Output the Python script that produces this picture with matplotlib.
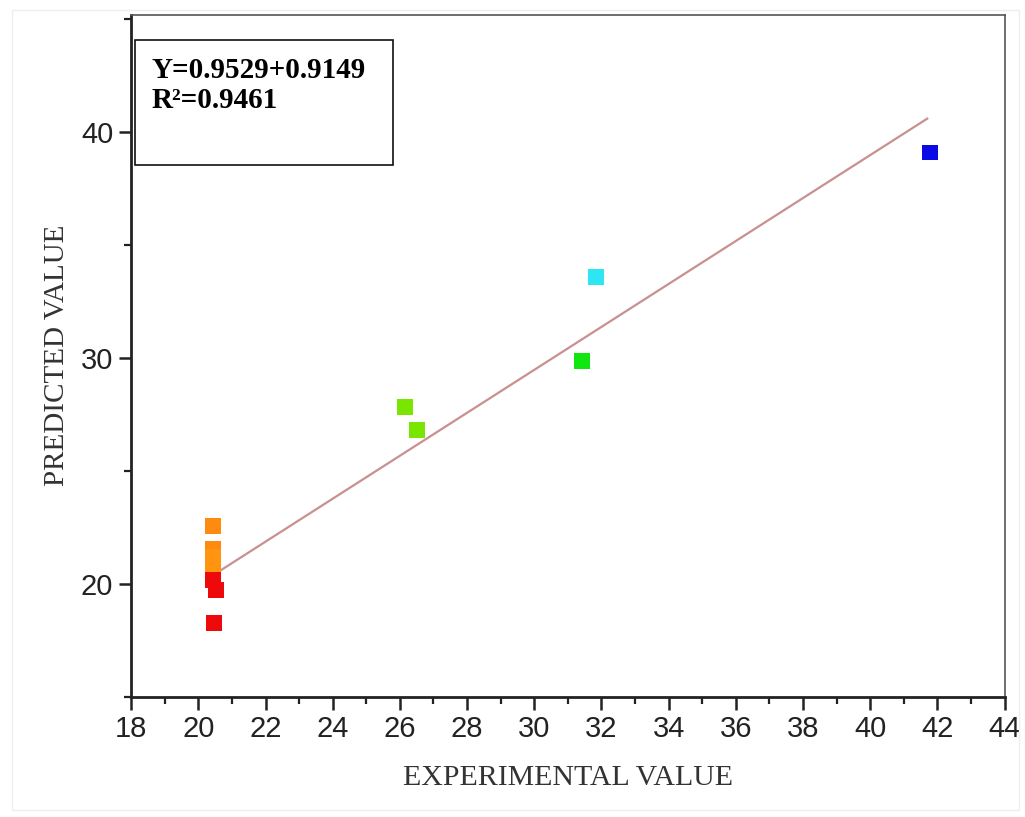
import matplotlib
matplotlib.use("Agg")
import matplotlib.pyplot as plt
from matplotlib.patches import Rectangle
from matplotlib.ticker import MultipleLocator

# ---- data ----
exp_x = [41.78, 31.84, 31.42, 26.15, 26.51, 20.44, 20.44, 20.44, 20.44, 20.44, 20.52, 20.47]
pred_y = [39.10, 33.58, 29.87, 27.83, 26.81, 22.57, 21.55, 21.20, 20.88, 20.18, 19.73, 18.27]
point_colors = ["#0a0ae6", "#2ee6f2", "#10e610", "#78e600", "#78e600",
                "#ff8a10", "#ff8a10", "#ff9410", "#ff9410", "#ee0a0a", "#ee0a0a", "#ee0a0a"]
fit_x = [20.45, 41.70]
fit_y = [20.40, 40.60]
eq_text = "Y=0.9529+0.9149"
r2_text = "R\u00b2=0.9461"
x_label = "EXPERIMENTAL VALUE"
y_label = "PREDICTED VALUE"

fig = plt.figure(figsize=(10.25, 8.17), dpi=100)
ax = fig.add_axes([0.128, 0.147, 0.852, 0.835])

ax.plot(fit_x, fit_y, color="#c89090", lw=1.6, zorder=2)
ax.scatter(exp_x, pred_y, marker="s", s=130, c=point_colors, edgecolors="none", zorder=3)

ax.set_xlim(18, 44)
ax.set_ylim(15, 45.2)
ax.xaxis.set_major_locator(MultipleLocator(2))
ax.xaxis.set_minor_locator(MultipleLocator(1))
ax.yaxis.set_major_locator(MultipleLocator(10))
ax.yaxis.set_minor_locator(MultipleLocator(5))
ax.tick_params(which="major", direction="out", length=9, width=1.8, color="#222222",
               labelsize=21, labelcolor="#222222", pad=4)
ax.tick_params(which="minor", direction="out", length=5, width=1.6, color="#222222")
for lab in ax.get_xticklabels() + ax.get_yticklabels():
    lab.set_family("Liberation Sans")
for side in ["left", "bottom"]:
    ax.spines[side].set_linewidth(2.0)
    ax.spines[side].set_color("#222222")
for side in ["top", "right"]:
    ax.spines[side].set_linewidth(1.2)
    ax.spines[side].set_color("#555555")

ax.set_xlabel(x_label, family="Liberation Serif", fontsize=21.5, color="#333333", labelpad=16)
ax.set_ylabel(y_label, family="Liberation Serif", fontsize=21, color="#333333", labelpad=8)

# equation box
fig.patches.append(Rectangle((0.1317, 0.798), 0.2517, 0.153, transform=fig.transFigure,
                             facecolor="white", edgecolor="#111111", lw=1.2, zorder=5))
fig.text(0.148, 0.905, eq_text, family="Liberation Serif", weight="bold", fontsize=21,
         color="black", va="baseline", zorder=6)
fig.text(0.148, 0.868, r2_text, family="Liberation Serif", weight="bold", fontsize=21,
         color="black", va="baseline", zorder=6)

# faint screenshot border
fig.patches.append(Rectangle((0.012, 0.008), 0.982, 0.98, transform=fig.transFigure,
                             facecolor="none", edgecolor="#eeeeee", lw=1.0, zorder=0))

fig.savefig("out.png", dpi=100)
